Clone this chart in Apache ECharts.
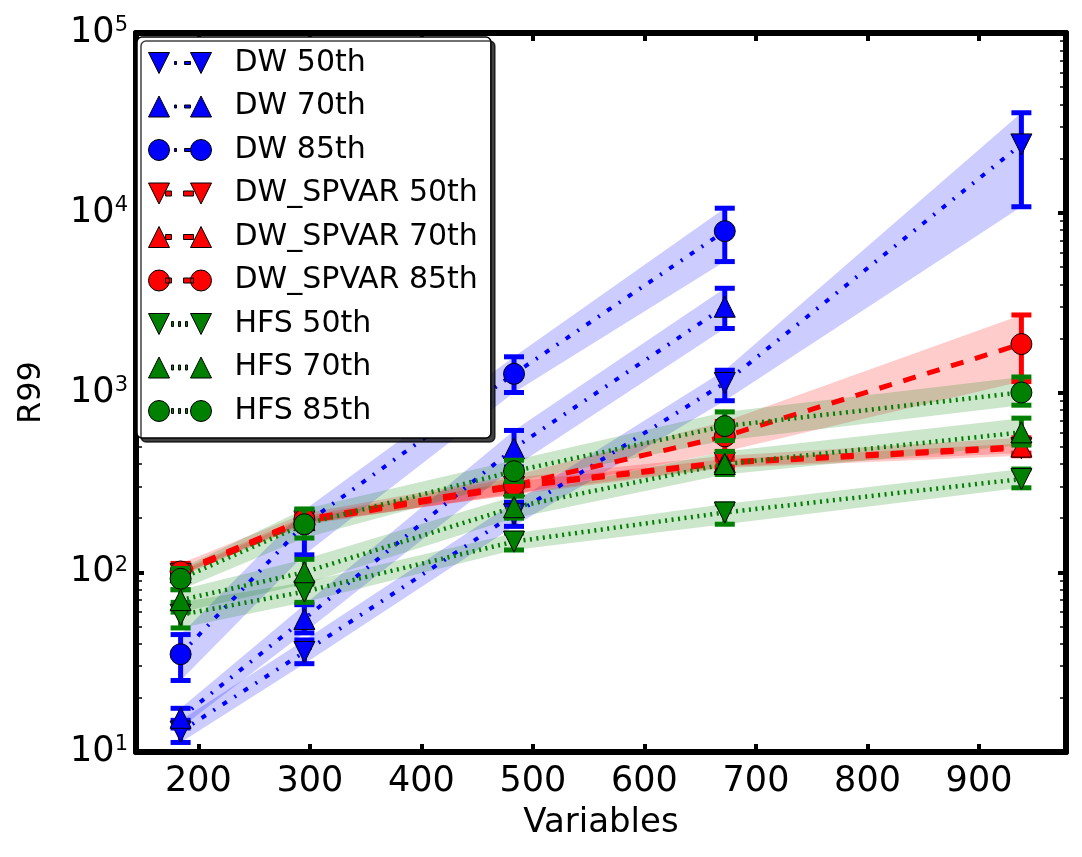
<!DOCTYPE html>
<html>
<head>
<meta charset="utf-8">
<script src="https://cdn.jsdelivr.net/npm/echarts@6/dist/echarts.min.js"></script>
<style>
html, body { margin: 0; padding: 0; background: #fff; }
#chart { width: 1082px; height: 857px; }
</style>
</head>
<body>
<div id="chart"></div>
<script>
const variables = [184, 295, 483, 672, 938];
const xTicks = [200, 300, 400, 500, 600, 700, 800, 900];
const yTicks = [10, 100, 1000, 10000, 100000];
const yMinorTicks = [20, 30, 40, 50, 60, 70, 80, 90,
    200, 300, 400, 500, 600, 700, 800, 900,
    2000, 3000, 4000, 5000, 6000, 7000, 8000, 9000,
    20000, 30000, 40000, 50000, 60000, 70000, 80000, 90000];

// DW
const dw50 = [13, 36, 210, 1130, 24000];
const dw50Lo = [11.3, 31, 180, 900, 10800];
const dw50Hi = [15, 42, 245, 1330, 36000];
const dw70 = [15.5, 55, 490, 3000];
const dw70Lo = [13.6, 46, 385, 2270];
const dw70Hi = [17.5, 66, 615, 3800];
const dw85 = [35, 185, 1270, 7900];
const dw85Lo = [25, 125, 1000, 5350];
const dw85Hi = [45, 222, 1580, 10600];

// DW_SPVAR
const sp50 = [98, 192, 298, 405, 490];
const sp50Lo = [95, 183, 275, 385, 460];
const sp50Hi = [101, 200, 320, 425, 520];
const sp70 = [100, 195, 303, 410, 500];
const sp70Lo = [97, 186, 270, 380, 445];
const sp70Hi = [103, 205, 335, 445, 560];
const sp85 = [101, 197, 305, 570, 1860];
const sp85Lo = [97, 188, 270, 470, 1150];
const sp85Hi = [112, 212, 345, 690, 2700];

// HFS
const hfs50 = [58, 78, 148, 215, 330];
const hfs50Lo = [49, 68, 133, 185, 295];
const hfs50Hi = [68, 88, 165, 240, 375];
const hfs70 = [70, 100, 230, 400, 600];
const hfs70Lo = [60, 86, 200, 350, 510];
const hfs70Hi = [80, 118, 265, 470, 720];
const hfs85 = [92, 185, 365, 650, 1000];
const hfs85Lo = [80, 155, 320, 540, 850];
const hfs85Hi = [105, 225, 420, 780, 1220];

const FONT = 'DejaVu Sans';

const groups = {
    dw: { color: '#0000ff', band: 'rgba(0,0,255,0.2)', z: 3, width: 4, dash: [5, 9, 2, 9] },
    sp: { color: '#ff0000', band: 'rgba(255,0,0,0.2)', z: 4, width: 5, dash: [13, 12] },
    hfs: { color: '#008000', band: 'rgba(0,128,0,0.2)', z: 5, width: 4.5, dash: [2, 4.5] }
};

const defs = [
    { name: 'DW 50th', g: 'dw', mark: 'down', mean: dw50, lo: dw50Lo, hi: dw50Hi },
    { name: 'DW 70th', g: 'dw', mark: 'up', mean: dw70, lo: dw70Lo, hi: dw70Hi },
    { name: 'DW 85th', g: 'dw', mark: 'circle', mean: dw85, lo: dw85Lo, hi: dw85Hi },
    { name: 'DW_SPVAR 50th', g: 'sp', mark: 'down', mean: sp50, lo: sp50Lo, hi: sp50Hi },
    { name: 'DW_SPVAR 70th', g: 'sp', mark: 'up', mean: sp70, lo: sp70Lo, hi: sp70Hi },
    { name: 'DW_SPVAR 85th', g: 'sp', mark: 'circle', mean: sp85, lo: sp85Lo, hi: sp85Hi },
    { name: 'HFS 50th', g: 'hfs', mark: 'down', mean: hfs50, lo: hfs50Lo, hi: hfs50Hi },
    { name: 'HFS 70th', g: 'hfs', mark: 'up', mean: hfs70, lo: hfs70Lo, hi: hfs70Hi },
    { name: 'HFS 85th', g: 'hfs', mark: 'circle', mean: hfs85, lo: hfs85Lo, hi: hfs85Hi }
];

// legend icons: two markers with a bit of line between them
const markPaths = {
    down: 'M0,0L21,0L10.5,21Z M42,0L63,0L52.5,21Z',
    up: 'M10.5,0L21,21L0,21Z M52.5,0L63,21L42,21Z',
    circle: 'M0,10.5A10.5,10.5,0,1,1,21,10.5A10.5,10.5,0,1,1,0,10.5Z M42,10.5A10.5,10.5,0,1,1,63,10.5A10.5,10.5,0,1,1,42,10.5Z'
};
const linePaths = {
    dw: 'M26,9h2v3h-2Z M36,9h6v3h-6Z',
    sp: 'M17,8h6v5h-6Z M35,8h10v5h-10Z',
    hfs: 'M23,8h2v5h-2Z M30,8h2v5h-2Z M37,8h2v5h-2Z'
};

function rows(d) {
    return d.mean.map((m, i) => [variables[i], d.lo[i], d.hi[i], m]);
}

function bandSeries(d) {
    const g = groups[d.g];
    const data = rows(d);
    return {
        type: 'custom',
        name: d.name + ' band',
        z: 1,
        silent: true,
        animation: false,
        data: data,
        renderItem(params, api) {
            if (params.dataIndex !== 0) return null;
            const upper = data.map(r => api.coord([r[0], r[2]]));
            const lower = data.map(r => api.coord([r[0], r[1]])).reverse();
            return {
                type: 'polygon',
                shape: { points: upper.concat(lower) },
                style: { fill: g.band }
            };
        }
    };
}

function errorSeries(d) {
    const g = groups[d.g];
    return {
        type: 'custom',
        name: d.name + ' err',
        z: g.z,
        silent: true,
        animation: false,
        data: rows(d),
        renderItem(params, api) {
            const x = api.value(0);
            const top = api.coord([x, api.value(2)]);
            const bot = api.coord([x, api.value(1)]);
            const st = { stroke: g.color, lineWidth: 5 };
            return {
                type: 'group',
                children: [
                    { type: 'line', shape: { x1: top[0], y1: top[1], x2: bot[0], y2: bot[1] }, style: st },
                    { type: 'line', shape: { x1: top[0] - 10, y1: top[1], x2: top[0] + 10, y2: top[1] }, style: st },
                    { type: 'line', shape: { x1: bot[0] - 10, y1: bot[1], x2: bot[0] + 10, y2: bot[1] }, style: st }
                ]
            };
        }
    };
}

function lineSeries(d) {
    const g = groups[d.g];
    return {
        type: 'line',
        name: d.name,
        z: g.z,
        silent: true,
        animation: false,
        data: d.mean.map((m, i) => [variables[i], m]),
        symbol: d.mark === 'circle' ? 'circle' : 'triangle',
        symbolRotate: d.mark === 'down' ? 180 : 0,
        symbolSize: 21,
        showAllSymbol: true,
        itemStyle: { color: g.color, borderColor: '#000', borderWidth: 1 },
        lineStyle: { color: g.color, width: g.width, type: g.dash, cap: 'butt' }
    };
}

const series = [];
defs.forEach(d => series.push(bandSeries(d)));
defs.forEach(d => { series.push(errorSeries(d)); series.push(lineSeries(d)); });

const frame = { show: true, onZero: false, lineStyle: { color: '#000', width: 6 } };
const majorTick = (vals) => ({ show: true, inside: true, length: 8, customValues: vals, lineStyle: { color: '#000', width: 4 } });
const minorTick = { show: true, inside: true, length: 6, customValues: yMinorTicks, lineStyle: { color: '#000', width: 1.5 } };

const chart = echarts.init(document.getElementById('chart'), null, { renderer: 'canvas' });
chart.setOption({
    animation: false,
    textStyle: { fontFamily: FONT },
    grid: { left: 136, right: 16, top: 33, bottom: 105, containLabel: false },
    legend: {
        orient: 'vertical',
        left: 137,
        top: 37,
        padding: [11, 13, 12, 11],
        itemWidth: 63,
        itemHeight: 21,
        itemGap: 13.5,
        selectedMode: false,
        backgroundColor: '#fff',
        borderColor: '#000',
        borderWidth: 1.5,
        borderRadius: 5,
        shadowColor: 'rgba(0,0,0,0.75)',
        shadowOffsetX: 4,
        shadowOffsetY: 4,
        shadowBlur: 0,
        itemStyle: { borderColor: '#000', borderWidth: 1 },
        textStyle: { fontFamily: FONT, fontSize: 30, lineHeight: 29, color: '#000', padding: [0, 0, 0, 18] },
        data: defs.map(d => ({ name: d.name, icon: 'path://' + markPaths[d.mark] + ' ' + linePaths[d.g] }))
    },
    xAxis: [
        {
            type: 'value', position: 'bottom', min: 144, max: 978,
            axisLine: frame,
            axisTick: majorTick(xTicks),
            axisLabel: { customValues: xTicks, fontFamily: FONT, fontSize: 35, color: '#000', margin: 12 },
            splitLine: { show: false },
            name: 'Variables', nameLocation: 'middle', nameGap: 54,
            nameTextStyle: { fontFamily: FONT, fontSize: 34, color: '#000' }
        },
        {
            type: 'value', position: 'top', min: 144, max: 978,
            axisLine: frame,
            axisTick: majorTick(xTicks),
            axisLabel: { show: false },
            splitLine: { show: false }
        }
    ],
    yAxis: [
        {
            type: 'log', logBase: 10, position: 'left', min: 10, max: 100000,
            axisLine: frame,
            axisTick: majorTick(yTicks),
            axisLabel: {
                customValues: yTicks,
                margin: 8,
                formatter: v => '{b|10}{s|' + Math.round(Math.log10(v)) + '}',
                rich: {
                    b: { fontFamily: FONT, fontSize: 35, color: '#000' },
                    s: { fontFamily: FONT, fontSize: 21, color: '#000', verticalAlign: 'top' }
                }
            },
            splitLine: { show: false },
            name: 'R99', nameLocation: 'middle', nameGap: 88,
            nameTextStyle: { fontFamily: FONT, fontSize: 32, color: '#000' }
        },
        {
            type: 'log', logBase: 10, position: 'left', min: 10, max: 100000,
            axisLine: { show: false },
            axisTick: minorTick,
            axisLabel: { show: false },
            splitLine: { show: false }
        },
        {
            type: 'log', logBase: 10, position: 'right', min: 10, max: 100000,
            axisLine: frame,
            axisTick: majorTick(yTicks),
            axisLabel: { show: false },
            splitLine: { show: false }
        },
        {
            type: 'log', logBase: 10, position: 'right', min: 10, max: 100000,
            axisLine: { show: false },
            axisTick: minorTick,
            axisLabel: { show: false },
            splitLine: { show: false }
        }
    ],
    series: series
});
</script>
</body>
</html>
